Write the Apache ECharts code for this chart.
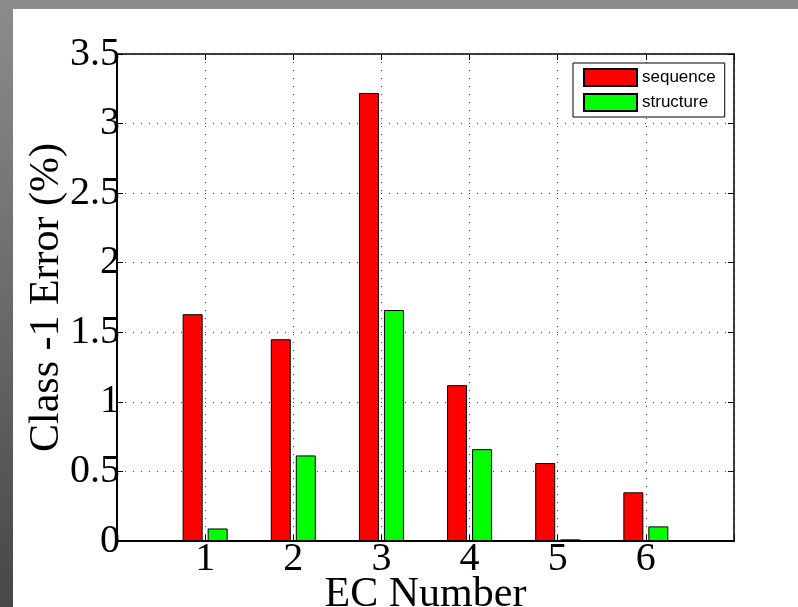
<!DOCTYPE html>
<html>
<head>
<meta charset="utf-8">
<script src="https://cdn.jsdelivr.net/npm/echarts@6/dist/echarts.min.js"></script>
<style>
  html, body { margin: 0; padding: 0; }
  body { width: 798px; height: 607px; position: relative; overflow: hidden;
         background: linear-gradient(to bottom, #8c8c8c 0%, #6a6a6a 50%, #474747 100%); }
  #paper { position: absolute; left: 13px; top: 9px; width: 785px; height: 598px; background: #fff; }
  #chart { position: absolute; left: 0; top: 0; width: 798px; height: 607px; }
</style>
</head>
<body>
<div id="paper"></div>
<div id="chart"></div>
<script>
const categories = [1, 2, 3, 4, 5, 6];
const sequenceValues = [1.63, 1.45, 3.22, 1.12, 0.56, 0.35];
const structureValues = [0.09, 0.615, 1.66, 0.66, 0.012, 0.105];
const yTicks = [0, 0.5, 1, 1.5, 2, 2.5, 3, 3.5];

const serif = "'Liberation Serif', 'Times New Roman', serif";
const chart = echarts.init(document.getElementById('chart'), null, { renderer: 'canvas' });

const dotted = { color: '#444', width: 1, type: [1, 7] };

chart.setOption({
  backgroundColor: 'transparent',
  animation: false,
  grid: { left: 117, top: 54, right: 64, bottom: 66, containLabel: false, outerBoundsMode: 'none' },
  legend: {
    orient: 'vertical',
    left: 573, top: 63,
    padding: [5, 9, 5, 10],
    icon: 'rect',
    itemWidth: 53, itemHeight: 17, itemGap: 6,
    borderColor: '#000', borderWidth: 1, backgroundColor: '#fff',
    textStyle: { fontFamily: "'Liberation Sans', Arial, sans-serif", fontSize: 17, color: '#000' },
    data: ['sequence', 'structure']
  },
  xAxis: [
    {
      type: 'value', min: 0, max: 7, interval: 1, position: 'bottom',
      name: 'EC Number', nameLocation: 'middle', nameGap: 33, nameMoveOverlap: false,
      nameTextStyle: { fontFamily: serif, fontSize: 42, color: '#000' },
      axisLine: { show: true, onZero: false, lineStyle: { color: '#000', width: 2 } },
      axisTick: { show: true, inside: true, length: 6, lineStyle: { color: '#000' } },
      axisLabel: {
        fontFamily: serif, fontSize: 40, color: '#000', margin: -2,
        formatter: v => (categories.indexOf(v) >= 0 ? String(v) : '')
      },
      splitLine: { show: true, lineStyle: dotted }
    },
    {
      type: 'value', min: 0, max: 7, interval: 1, position: 'top',
      axisLine: { show: true, onZero: false, lineStyle: { color: '#000', width: 1.5 } },
      axisTick: { show: true, inside: true, length: 6, lineStyle: { color: '#000' } },
      axisLabel: { show: false },
      splitLine: { show: false }
    }
  ],
  yAxis: [
    {
      type: 'value', min: yTicks[0], max: yTicks[yTicks.length - 1], interval: 0.5, position: 'left',
      name: 'Class -1 Error (%)', nameLocation: 'middle', nameGap: 49, nameRotate: 90, nameMoveOverlap: false,
      nameTextStyle: { fontFamily: serif, fontSize: 42, color: '#000' },
      axisLine: { show: true, onZero: false, lineStyle: { color: '#000', width: 2 } },
      axisTick: { show: true, inside: true, length: 6, lineStyle: { color: '#000' } },
      axisLabel: { fontFamily: serif, fontSize: 40, color: '#000', margin: -3 },
      splitLine: { show: true, lineStyle: dotted }
    },
    {
      type: 'value', min: yTicks[0], max: yTicks[yTicks.length - 1], interval: 0.5, position: 'right',
      axisLine: { show: true, onZero: false, lineStyle: { color: '#000', width: 1.5 } },
      axisTick: { show: true, inside: true, length: 6, lineStyle: { color: '#000' } },
      axisLabel: { show: false },
      splitLine: { show: false }
    }
  ],
  series: [
    {
      name: 'sequence', type: 'bar', xAxisIndex: 0, yAxisIndex: 0,
      barWidth: 20, barGap: '25%',
      itemStyle: { color: '#ff0000', borderColor: '#000', borderWidth: 1 },
      data: categories.map((c, i) => [c, sequenceValues[i]])
    },
    {
      name: 'structure', type: 'bar', xAxisIndex: 0, yAxisIndex: 0,
      barWidth: 20, barGap: '25%',
      itemStyle: { color: '#00ff00', borderColor: '#000', borderWidth: 1 },
      data: categories.map((c, i) => [c, structureValues[i]])
    }
  ]
});
</script>
</body>
</html>
